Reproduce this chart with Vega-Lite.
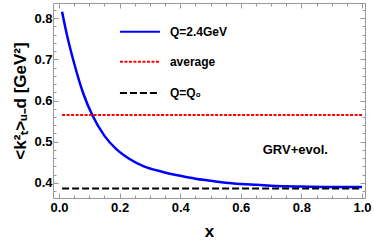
{
  "$schema": "https://vega.github.io/schema/vega-lite/v6.json",
  "autosize": "none",
  "width": 312,
  "height": 195,
  "padding": {"left": 53, "top": 3, "right": 9, "bottom": 48},
  "background": "white",
  "config": {
    "view": {"stroke": "#999999", "strokeWidth": 1},
    "font": "Liberation Sans",
    "axis": {
      "domain": false,
      "grid": false,
      "tickColor": "#999999",
      "labelFont": "Liberation Sans",
      "labelFontWeight": "bold",
      "labelFontSize": 13,
      "labelColor": "black",
      "titleFont": "Liberation Sans",
      "titleFontWeight": "bold",
      "titleColor": "black"
    }
  },
  "datasets": {
    "curve": [
      {"x": 0.01, "y": 0.816},
      {"x": 0.025, "y": 0.763},
      {"x": 0.05, "y": 0.69},
      {"x": 0.08, "y": 0.617},
      {"x": 0.11, "y": 0.564},
      {"x": 0.15, "y": 0.514},
      {"x": 0.19, "y": 0.481},
      {"x": 0.23, "y": 0.459},
      {"x": 0.28, "y": 0.440},
      {"x": 0.34, "y": 0.427},
      {"x": 0.4, "y": 0.417},
      {"x": 0.45, "y": 0.410},
      {"x": 0.5, "y": 0.405},
      {"x": 0.55, "y": 0.400},
      {"x": 0.6, "y": 0.397},
      {"x": 0.65, "y": 0.395},
      {"x": 0.7, "y": 0.393},
      {"x": 0.8, "y": 0.391},
      {"x": 0.9, "y": 0.390},
      {"x": 1.0, "y": 0.390}
    ]
  },
  "resolve": {"axis": {"x": "independent", "y": "independent"}},
  "layer": [
    {
      "data": {"name": "curve"},
      "mark": {"type": "line", "color": "#0000ff", "strokeWidth": 2.5, "interpolate": "monotone"},
      "encoding": {
        "x": {
          "field": "x", "type": "quantitative",
          "scale": {"domain": [-0.02, 1.01], "nice": false, "zero": false},
          "axis": {
            "orient": "bottom",
            "title": "x",
            "titleFontSize": 17,
            "titlePadding": 9,
            "values": [0, 0.05, 0.1, 0.15, 0.2, 0.25, 0.3, 0.35, 0.4, 0.45, 0.5, 0.55, 0.6, 0.65, 0.7, 0.75, 0.8, 0.85, 0.9, 0.95, 1.0],
            "labelExpr": "abs(datum.value*5 - round(datum.value*5)) < 0.001 ? format(datum.value, '.1f') : ''",
            "tickSize": {"condition": {"test": "abs(datum.value*5 - round(datum.value*5)) < 0.001", "value": -5}, "value": -3},
            "labelPadding": 8,
            "labelFlush": false
          }
        },
        "y": {
          "field": "y", "type": "quantitative",
          "scale": {"domain": [0.363, 0.837], "nice": false, "zero": false},
          "axis": {
            "orient": "left",
            "title": "<k²ₜ>ᵤ₋d [GeV²]",
            "titleFontSize": 17,
            "titlePadding": 4,
            "values": [0.38, 0.4, 0.42, 0.44, 0.46, 0.48, 0.5, 0.52, 0.54, 0.56, 0.58, 0.6, 0.62, 0.64, 0.66, 0.68, 0.7, 0.72, 0.74, 0.76, 0.78, 0.8, 0.82],
            "labelExpr": "abs(datum.value*10 - round(datum.value*10)) < 0.001 ? format(datum.value, '.1f') : ''",
            "tickSize": {"condition": {"test": "abs(datum.value*10 - round(datum.value*10)) < 0.001", "value": -5}, "value": -3},
            "labelPadding": 6
          }
        }
      }
    },
    {
      "data": {"values": [{"x": 0.01, "x2": 1.0, "y": 0.565}]},
      "mark": {"type": "rule", "color": "#ff0000", "strokeWidth": 2, "strokeDash": [3, 1.5]},
      "encoding": {
        "x": {
          "field": "x", "type": "quantitative",
          "axis": {
            "orient": "top", "title": null, "labels": false,
            "values": [0, 0.05, 0.1, 0.15, 0.2, 0.25, 0.3, 0.35, 0.4, 0.45, 0.5, 0.55, 0.6, 0.65, 0.7, 0.75, 0.8, 0.85, 0.9, 0.95, 1.0],
            "tickSize": {"condition": {"test": "abs(datum.value*5 - round(datum.value*5)) < 0.001", "value": -5}, "value": -3}
          }
        },
        "x2": {"field": "x2"},
        "y": {
          "field": "y", "type": "quantitative",
          "axis": {
            "orient": "right", "title": null, "labels": false,
            "values": [0.38, 0.4, 0.42, 0.44, 0.46, 0.48, 0.5, 0.52, 0.54, 0.56, 0.58, 0.6, 0.62, 0.64, 0.66, 0.68, 0.7, 0.72, 0.74, 0.76, 0.78, 0.8, 0.82],
            "tickSize": {"condition": {"test": "abs(datum.value*10 - round(datum.value*10)) < 0.001", "value": -5}, "value": -3}
          }
        }
      }
    },
    {
      "data": {"values": [{"x": 0.01, "x2": 1.0, "y": 0.386}]},
      "mark": {"type": "rule", "color": "black", "strokeWidth": 2, "strokeDash": [7, 3]},
      "encoding": {
        "x": {"field": "x", "type": "quantitative", "axis": null},
        "x2": {"field": "x2"},
        "y": {"field": "y", "type": "quantitative", "axis": null}
      }
    },
    {
      "data": {"values": [
        {"x": 0.201, "x2": 0.333, "y": 0.767, "series": "Q=2.4GeV"},
        {"x": 0.201, "x2": 0.333, "y": 0.694, "series": "average"},
        {"x": 0.201, "x2": 0.333, "y": 0.618, "series": "Q=Q₀"}
      ]},
      "mark": {"type": "rule", "strokeWidth": 2},
      "encoding": {
        "x": {"field": "x", "type": "quantitative", "axis": null},
        "x2": {"field": "x2"},
        "y": {"field": "y", "type": "quantitative", "axis": null},
        "color": {"field": "series", "type": "nominal", "legend": null,
          "scale": {"domain": ["Q=2.4GeV", "average", "Q=Q₀"], "range": ["#0000ff", "#ff0000", "black"]}},
        "strokeDash": {"field": "series", "type": "nominal", "legend": null,
          "scale": {"domain": ["Q=2.4GeV", "average", "Q=Q₀"], "range": [[1, 0], [3, 1.5], [7, 3]]}}
      }
    },
    {
      "data": {"values": [
        {"x": 0.366, "y": 0.767, "label": "Q=2.4GeV"},
        {"x": 0.366, "y": 0.694, "label": "average"},
        {"x": 0.366, "y": 0.618, "label": "Q=Q₀"}
      ]},
      "mark": {"type": "text", "align": "left", "baseline": "middle", "fontSize": 12, "fontWeight": "bold", "font": "Liberation Sans", "color": "black"},
      "encoding": {
        "x": {"field": "x", "type": "quantitative", "axis": null},
        "y": {"field": "y", "type": "quantitative", "axis": null},
        "text": {"field": "label"}
      }
    },
    {
      "data": {"values": [{"x": 0.78, "y": 0.48, "label": "GRV+evol."}]},
      "mark": {"type": "text", "align": "center", "baseline": "middle", "fontSize": 13, "fontWeight": "bold", "font": "Liberation Sans", "color": "black"},
      "encoding": {
        "x": {"field": "x", "type": "quantitative", "axis": null},
        "y": {"field": "y", "type": "quantitative", "axis": null},
        "text": {"field": "label"}
      }
    }
  ]
}
